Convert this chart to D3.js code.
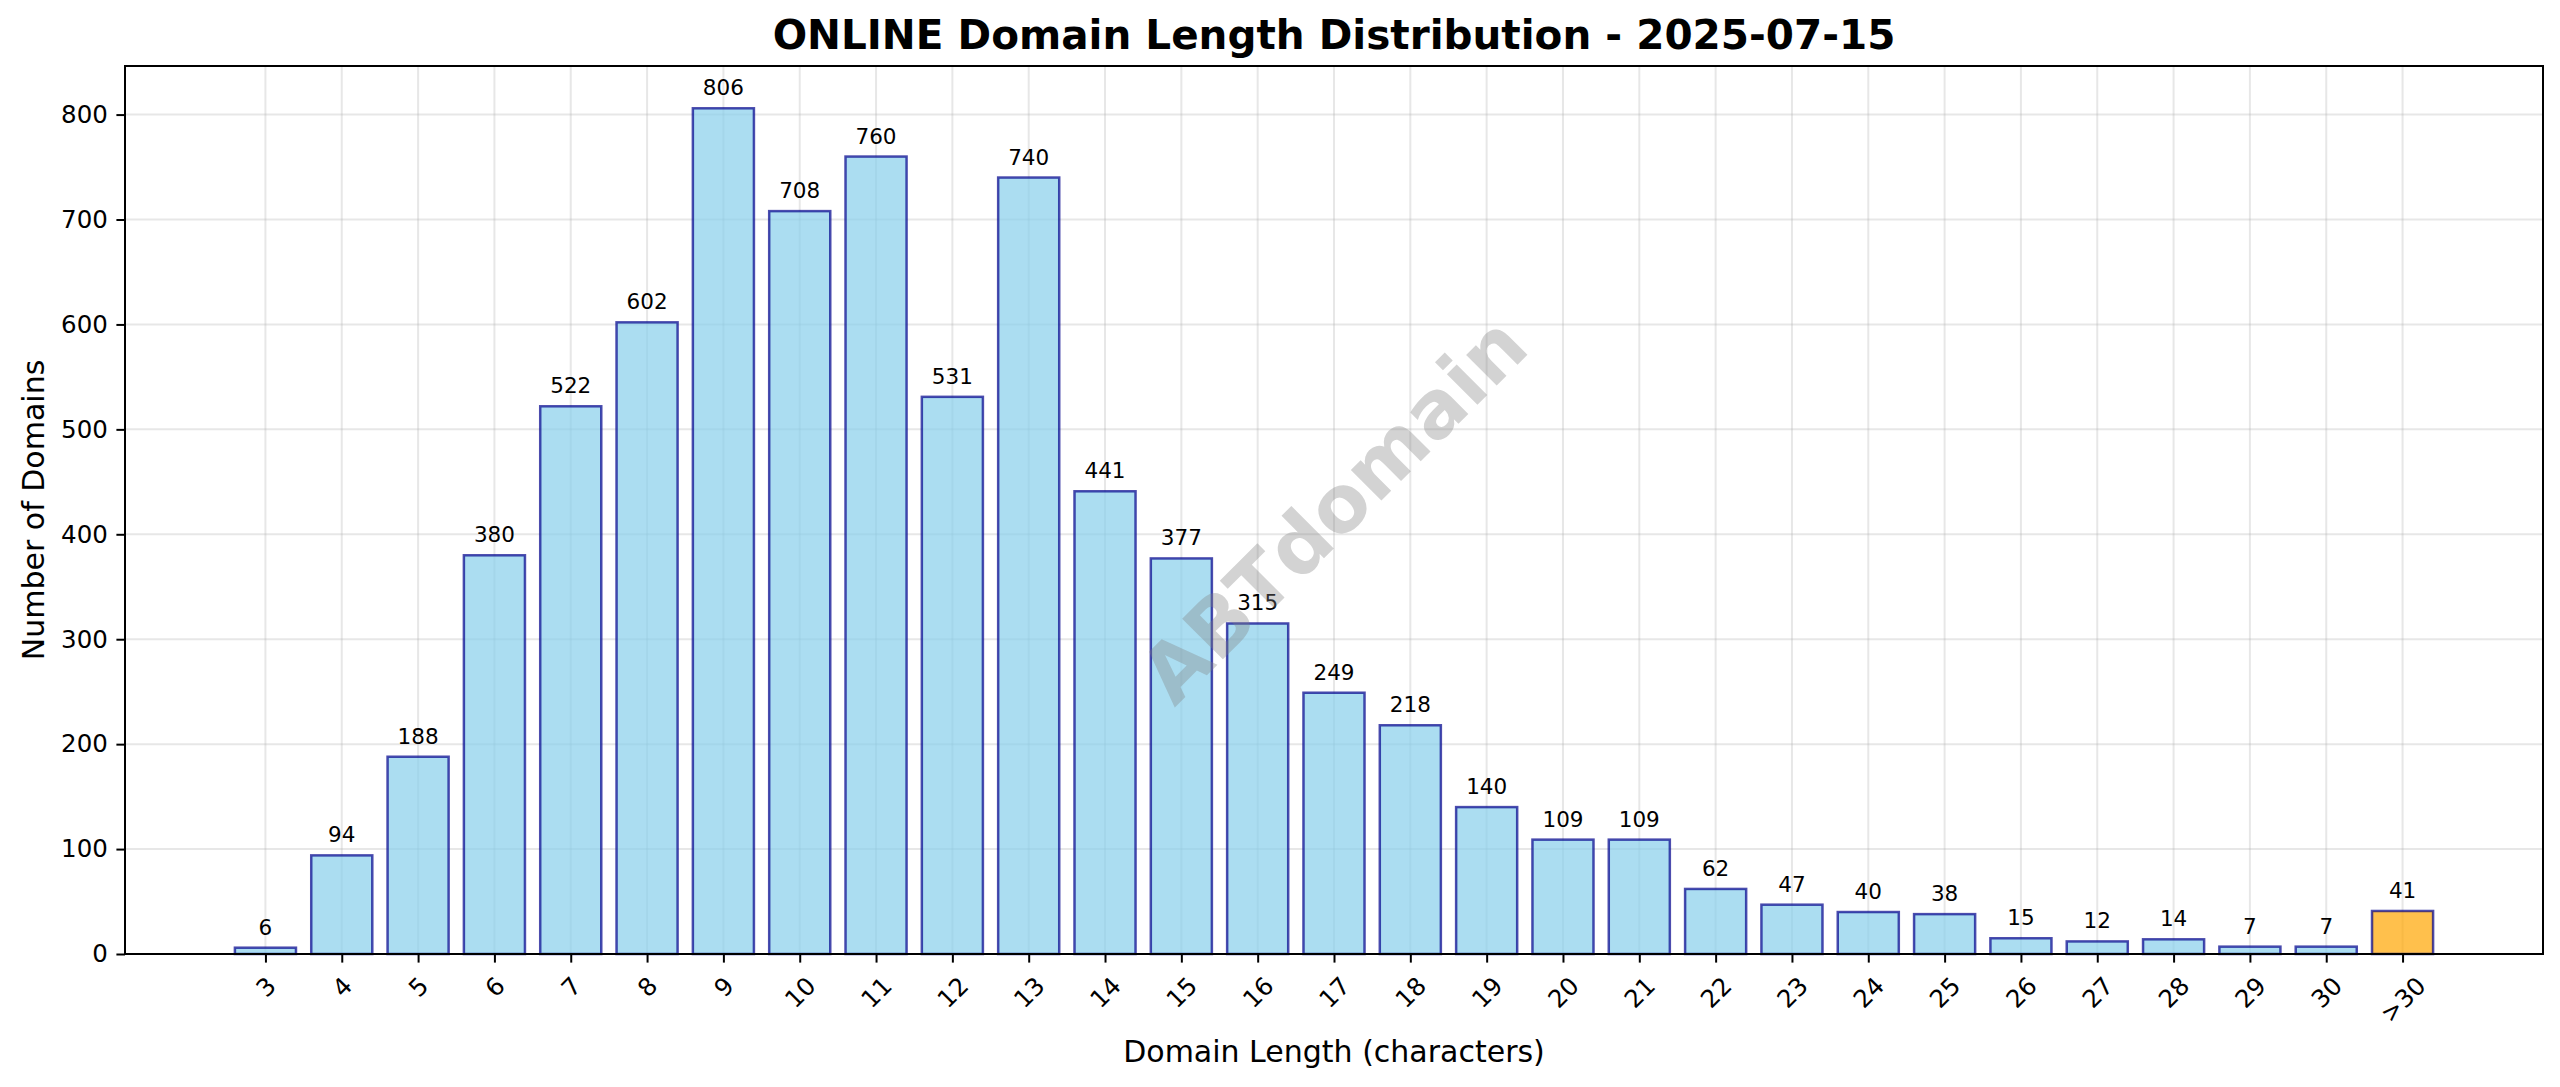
<!DOCTYPE html>
<html lang="en">
<head>
  <meta charset="UTF-8">
  <title>ONLINE Domain Length Distribution</title>
  <script src="https://d3js.org/d3.v7.min.js"></script>
  <style>
    body {
      margin: 0;
      padding: 0;
      background: #fff;
      font-family: "DejaVu Sans", sans-serif;
    }
    svg { display: block; }
  </style>
</head>
<body>
  <svg id="chart" width="2560" height="1087"></svg>

  <script>
    // data
    const lengths = ["3", "4", "5", "6", "7", "8", "9", "10", "11", "12", "13", "14", "15", "16",
                     "17", "18", "19", "20", "21", "22", "23", "24", "25", "26", "27", "28", "29", "30", ">30"];
    const counts = [6, 94, 188, 380, 522, 602, 806, 708, 760, 531, 740, 441, 377, 315,
                    249, 218, 140, 109, 109, 62, 47, 40, 38, 15, 12, 14, 7, 7, 41];
    const yTicks = [0, 100, 200, 300, 400, 500, 600, 700, 800];

    const plotLeft = 125, plotRight = 2543, plotTop = 66, plotBottom = 954;

    const svg = d3.select("#chart");

    // matplotlib-like margins: bars span -0.4..n-0.6, 5% padding
    const n = lengths.length;
    const span = (n - 1) + 0.8;
    const x = d3.scaleLinear()
      .domain([-0.4 - span * 0.05, n - 1 + 0.4 + span * 0.05])
      .range([plotLeft, plotRight]);
    const y = d3.scaleLinear()
      .domain([0, d3.max(counts) * 1.05])
      .range([plotBottom, plotTop]);

    const data = lengths.map((l, i) => ({ label: l, value: counts[i], i: i }));

    // grid
    const grid = svg.append("g").attr("class", "grid");
    grid.selectAll("line.vx")
      .data(data)
      .enter().append("line")
      .attr("x1", d => x(d.i)).attr("x2", d => x(d.i))
      .attr("y1", plotTop).attr("y2", plotBottom)
      .attr("stroke", "#b0b0b0").attr("stroke-opacity", 0.3).attr("stroke-width", 2);
    grid.selectAll("line.hy")
      .data(yTicks)
      .enter().append("line")
      .attr("x1", plotLeft).attr("x2", plotRight)
      .attr("y1", d => y(d)).attr("y2", d => y(d))
      .attr("stroke", "#b0b0b0").attr("stroke-opacity", 0.3).attr("stroke-width", 2);

    // bars
    svg.append("g").attr("class", "bars")
      .selectAll("rect")
      .data(data)
      .enter().append("rect")
      .attr("x", d => x(d.i - 0.4))
      .attr("width", d => x(d.i + 0.4) - x(d.i - 0.4))
      .attr("y", d => y(d.value))
      .attr("height", d => y(0) - y(d.value))
      .attr("fill", d => d.label === ">30" ? "#ffa500" : "#87ceeb")
      .attr("fill-opacity", 0.7)
      .attr("stroke", "#00008b")
      .attr("stroke-opacity", 0.7)
      .attr("stroke-width", 2.5);

    // value labels
    svg.append("g").attr("class", "labels")
      .selectAll("text")
      .data(data)
      .enter().append("text")
      .attr("x", d => x(d.i))
      .attr("y", d => y(d.value) - 13)
      .attr("text-anchor", "middle")
      .attr("font-size", 21.5)
      .attr("fill", "#000")
      .text(d => d.value);

    // watermark
    svg.append("text")
      .attr("transform", `translate(${(plotLeft + plotRight) / 2},${(plotTop + plotBottom) / 2}) rotate(-45)`)
      .attr("text-anchor", "middle")
      .attr("dominant-baseline", "central")
      .attr("font-size", 79)
      .attr("font-weight", "bold")
      .attr("fill", "#808080")
      .attr("fill-opacity", 0.35)
      .text("ABTdomain");

    // axes
    const xAxis = svg.append("g")
      .attr("transform", `translate(0,${plotBottom})`)
      .call(d3.axisBottom(x)
        .tickValues(d3.range(n))
        .tickFormat(i => lengths[i])
        .tickSize(8.6)
        .tickSizeOuter(0));
    xAxis.select(".domain").remove();
    xAxis.selectAll(".tick line").attr("stroke", "#000").attr("stroke-width", 2);
    xAxis.selectAll(".tick text")
      .attr("font-family", "DejaVu Sans")
      .attr("font-size", 24.5)
      .attr("fill", "#000")
      .each(function () {
        const t = d3.select(this);
        t.attr("y", 0).attr("dy", null).attr("text-anchor", "middle").attr("dominant-baseline", "central");
        const b = this.getBBox();
        const h = (b.width + b.height) * Math.SQRT1_2;
        const cy = 8.6 + 8.6 + h / 2;
        t.attr("transform", `translate(0,${cy}) rotate(-45)`);
      });

    const yAxis = svg.append("g")
      .attr("transform", `translate(${plotLeft},0)`)
      .call(d3.axisLeft(y)
        .tickValues(yTicks)
        .tickSize(8.6)
        .tickPadding(8.6)
        .tickSizeOuter(0));
    yAxis.select(".domain").remove();
    yAxis.selectAll(".tick line").attr("stroke", "#000").attr("stroke-width", 2);
    yAxis.selectAll(".tick text")
      .attr("font-family", "DejaVu Sans")
      .attr("font-size", 24.5)
      .attr("fill", "#000");

    // frame
    svg.append("rect")
      .attr("x", plotLeft).attr("y", plotTop)
      .attr("width", plotRight - plotLeft).attr("height", plotBottom - plotTop)
      .attr("fill", "none").attr("stroke", "#000").attr("stroke-width", 2);

    // titles
    svg.append("text")
      .attr("x", (plotLeft + plotRight) / 2).attr("y", 48.5)
      .attr("text-anchor", "middle")
      .attr("font-size", 40.5).attr("font-weight", "bold")
      .text("ONLINE Domain Length Distribution - 2025-07-15");

    svg.append("text")
      .attr("x", (plotLeft + plotRight) / 2).attr("y", 1062)
      .attr("text-anchor", "middle")
      .attr("font-size", 30)
      .text("Domain Length (characters)");

    svg.append("text")
      .attr("transform", `translate(44,${(plotTop + plotBottom) / 2}) rotate(-90)`)
      .attr("text-anchor", "middle")
      .attr("font-size", 30)
      .text("Number of Domains");
  </script>
</body>
</html>
